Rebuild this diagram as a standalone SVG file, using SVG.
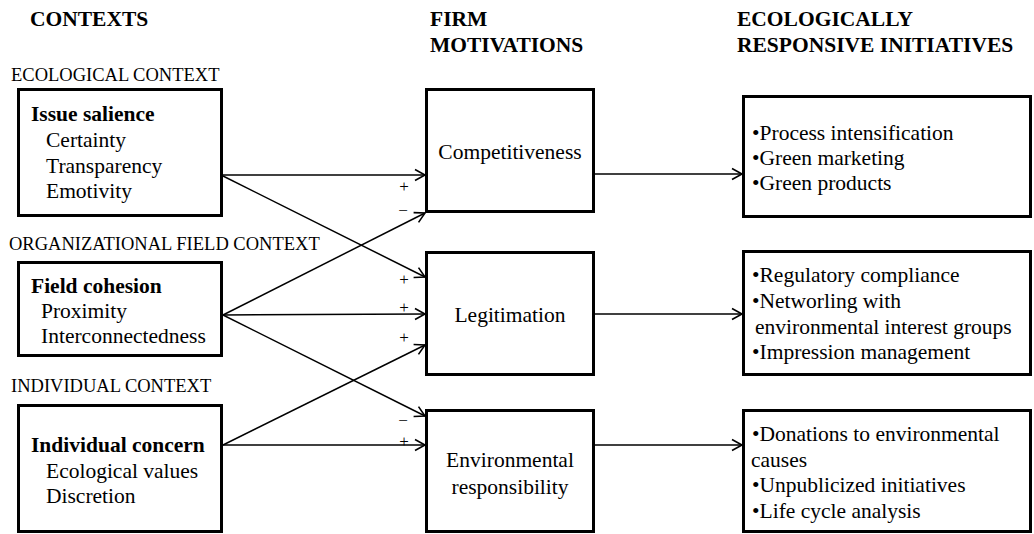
<svg xmlns="http://www.w3.org/2000/svg" width="1034" height="534" viewBox="0 0 1034 534">
  <style>
    text { fill: #000; font-family: "Liberation Serif", "Times New Roman", serif; }
    .hdr { font-size: 21.5px; font-weight: bold; }
    .ctx { font-size: 18.5px; }
    .t { font-size: 21.5px; }
    .b { font-size: 21.5px; font-weight: bold; }
    .mid { font-size: 21.5px; text-anchor: middle; }
    .sign { font-size: 17px; text-anchor: middle; }
    .box { fill: #fff; stroke: #000; stroke-width: 3; }
    .link { fill: none; stroke: #000; stroke-width: 1.5; marker-end: url(#head); }
  </style>
  <defs>
    <marker id="head" markerUnits="userSpaceOnUse" markerWidth="14" markerHeight="14" viewBox="0 0 14 14" refX="12" refY="7" orient="auto">
      <path d="M2,1.5 L12,7 L2,12.5" fill="none" stroke="#000" stroke-width="1.6"/>
    </marker>
  </defs>
  <rect width="1034" height="534" fill="#fff"/>

  <!-- column headings -->
  <g id="headings">
    <text class="hdr" x="30" y="26">CONTEXTS</text>
    <text class="hdr" x="430" y="26">FIRM</text>
    <text class="hdr" x="430" y="52">MOTIVATIONS</text>
    <text class="hdr" x="737" y="26">ECOLOGICALLY</text>
    <text class="hdr" x="737" y="52">RESPONSIVE INITIATIVES</text>
  </g>

  <!-- context labels -->
  <g id="context-labels">
    <text class="ctx" x="11" y="81">ECOLOGICAL CONTEXT</text>
    <text class="ctx" x="9" y="250">ORGANIZATIONAL FIELD CONTEXT</text>
    <text class="ctx" x="11" y="392">INDIVIDUAL CONTEXT</text>
  </g>

  <!-- connectors -->
  <g id="connectors">
    <line class="link" x1="223" y1="175" x2="425" y2="175"/>
    <line class="link" x1="223" y1="176" x2="425" y2="277"/>
    <line class="link" x1="223" y1="315" x2="425" y2="213"/>
    <line class="link" x1="223" y1="315" x2="425" y2="314"/>
    <line class="link" x1="223" y1="315" x2="425" y2="416"/>
    <line class="link" x1="223" y1="445" x2="425" y2="345"/>
    <line class="link" x1="223" y1="445" x2="425" y2="445"/>
    <line class="link" x1="594" y1="174" x2="742" y2="174"/>
    <line class="link" x1="594" y1="314" x2="742" y2="314"/>
    <line class="link" x1="594" y1="445" x2="742" y2="445"/>
  </g>

  <!-- effect signs -->
  <g id="signs">
    <text class="sign" x="404" y="192">+</text>
    <text class="sign" x="403" y="216">−</text>
    <text class="sign" x="404" y="285">+</text>
    <text class="sign" x="404" y="313">+</text>
    <text class="sign" x="404" y="343">+</text>
    <text class="sign" x="403" y="426">−</text>
    <text class="sign" x="404" y="447">+</text>
  </g>

  <!-- context boxes -->
  <g id="issue-salience">
    <rect class="box" x="18.5" y="89.5" width="203" height="126"/>
    <text class="b" x="31" y="121">Issue salience</text>
    <text class="t" x="46" y="147">Certainty</text>
    <text class="t" x="46" y="173">Transparency</text>
    <text class="t" x="46" y="198">Emotivity</text>
  </g>
  <g id="field-cohesion">
    <rect class="box" x="18.5" y="262.5" width="203" height="93"/>
    <text class="b" x="31" y="293">Field cohesion</text>
    <text class="t" x="41" y="318">Proximity</text>
    <text class="t" x="41" y="343">Interconnectedness</text>
  </g>
  <g id="individual-concern">
    <rect class="box" x="18.5" y="405.5" width="203" height="126"/>
    <text class="b" x="31" y="452">Individual concern</text>
    <text class="t" x="46" y="478">Ecological values</text>
    <text class="t" x="46" y="503">Discretion</text>
  </g>

  <!-- motivation boxes -->
  <g id="competitiveness">
    <rect class="box" x="426.5" y="89.5" width="167" height="122"/>
    <text class="mid" x="510" y="159">Competitiveness</text>
  </g>
  <g id="legitimation">
    <rect class="box" x="426.5" y="252.5" width="167" height="122"/>
    <text class="mid" x="510" y="322">Legitimation</text>
  </g>
  <g id="environmental-responsibility">
    <rect class="box" x="426.5" y="410.5" width="167" height="121"/>
    <text class="mid" x="510" y="467">Environmental</text>
    <text class="mid" x="510" y="494">responsibility</text>
  </g>

  <!-- initiative boxes -->
  <g id="competitive-initiatives">
    <rect class="box" x="743.5" y="96.5" width="287" height="120"/>
    <text class="t" x="752" y="140">•Process intensification</text>
    <text class="t" x="752" y="165">•Green marketing</text>
    <text class="t" x="752" y="190">•Green products</text>
  </g>
  <g id="legitimation-initiatives">
    <rect class="box" x="743.5" y="251.5" width="287" height="123"/>
    <text class="t" x="752" y="282">•Regulatory compliance</text>
    <text class="t" x="752" y="308">•Networling with</text>
    <text class="t" x="755" y="334">environmental interest groups</text>
    <text class="t" x="752" y="359">•Impression management</text>
  </g>
  <g id="responsibility-initiatives">
    <rect class="box" x="743.5" y="410.5" width="287" height="121"/>
    <text class="t" x="752" y="441">•Donations to environmental</text>
    <text class="t" x="751" y="467">causes</text>
    <text class="t" x="752" y="492">•Unpublicized initiatives</text>
    <text class="t" x="752" y="518">•Life cycle analysis</text>
  </g>
</svg>
